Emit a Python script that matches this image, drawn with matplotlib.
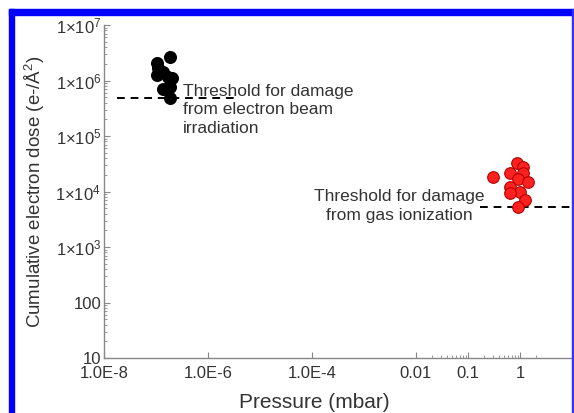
import numpy as np
import matplotlib
matplotlib.use("Agg")
import matplotlib.pyplot as plt
from matplotlib.ticker import FixedLocator, FixedFormatter, LogLocator, NullFormatter
from matplotlib.patches import Rectangle

plt.rcParams['font.family'] = ['Liberation Sans', 'DejaVu Sans']
plt.rcParams['mathtext.fontset'] = 'custom'
plt.rcParams['mathtext.rm'] = 'Liberation Sans'
plt.rcParams['mathtext.it'] = 'Liberation Sans:italic'

# electron beam irradiation (vacuum)
beam_p = [1.86e-7, 1.04e-7, 1.10e-7, 1.36e-7, 1.04e-7, 1.70e-7, 2.03e-7, 1.36e-7, 1.86e-7, 1.86e-7]
beam_dose = [2.65e6, 2.07e6, 1.68e6, 1.42e6, 1.26e6, 1.16e6, 1.11e6, 7.0e5, 7.6e5, 4.8e5]

# gas ionization
gas_p = [0.30, 0.87, 1.14, 0.65, 1.14, 0.91, 1.42, 0.65, 1.0, 0.65, 1.25, 0.91]
gas_dose = [1.82e4, 3.2e4, 2.77e4, 2.14e4, 2.2e4, 1.68e4, 1.48e4, 1.2e4, 9.8e3, 9.4e3, 7.0e3, 5.3e3]

# thresholds
beam_thr_x = [1.8e-8, 3.6e-6]
beam_thr_y = 4.8e5
gas_thr_x = [0.17, 10]
gas_thr_y = 5.2e3

xticks = [1e-8, 1e-6, 1e-4, 1e-2, 0.1, 1]
xticklabels = ['1.0E-8', '1.0E-6', '1.0E-4', '0.01', '0.1', '1']
xminor = [0.02, 0.03, 0.04, 0.05, 0.06, 0.07, 0.08, 0.09,
          0.2, 0.3, 0.4, 0.5, 0.6, 0.7, 0.8, 0.9, 2]
yticks = [10, 100, 1e3, 1e4, 1e5, 1e6, 1e7]
yticklabels = ['10', '100', '1×10$^{3}$', '1×10$^{4}$', '1×10$^{5}$', '1×10$^{6}$', '1×10$^{7}$']

txt = '#333333'
fig = plt.figure(figsize=(5.74, 4.13), dpi=100)
ax = fig.add_axes([0.181, 0.133, 0.8155, 0.8065])
ax.set_xscale('log')
ax.set_yscale('log')
ax.set_xlim(1e-8, 10)
ax.set_ylim(10, 1e7)

ax.plot(beam_thr_x, [beam_thr_y] * 2, color='black', ls=(0, (4, 3)), lw=1.4, zorder=2)
ax.plot(gas_thr_x, [gas_thr_y] * 2, color='black', ls=(0, (4, 3)), lw=1.4, zorder=2)
ax.scatter(beam_p, beam_dose, s=70, color='black', edgecolor='black', zorder=3)
ax.scatter(gas_p, gas_dose, s=70, color='#ff2020', edgecolor='#b00000', linewidth=0.8, zorder=3)

ax.text(3.3e-7, 2.95e5, 'Threshold for damage\nfrom electron beam\nirradiation',
        fontsize=12.5, color=txt, ha='left', va='center', linespacing=1.3)
ax.text(4.7e-3, 5.5e3, 'Threshold for damage\nfrom gas ionization',
        fontsize=12.5, color=txt, ha='center', va='center', multialignment='center',
        linespacing=1.3)

ax.xaxis.set_major_locator(FixedLocator(xticks))
ax.xaxis.set_major_formatter(FixedFormatter(xticklabels))
ax.xaxis.set_minor_locator(FixedLocator(xminor))
ax.xaxis.set_minor_formatter(NullFormatter())
ax.yaxis.set_major_locator(FixedLocator(yticks))
ax.yaxis.set_major_formatter(FixedFormatter(yticklabels))
ax.yaxis.set_minor_locator(LogLocator(base=10, subs=np.arange(2, 10)))
ax.yaxis.set_minor_formatter(NullFormatter())

ax.tick_params(which='both', direction='in', colors='#888888', labelcolor=txt, labelsize=12)
ax.tick_params(which='major', length=4, width=0.8)
ax.tick_params(which='minor', length=2, width=0.6)
ax.tick_params(axis='x', pad=6)
ax.tick_params(axis='y', pad=2)

for s in ['top', 'right']:
    ax.spines[s].set_visible(False)
for s in ['left', 'bottom']:
    ax.spines[s].set_color('#888888')
    ax.spines[s].set_linewidth(1.0)

ax.set_xlabel('Pressure (mbar)', fontsize=15, color=txt)
ax.xaxis.set_label_coords((314 - 104) / 468, -0.105)
ax.set_ylabel('Cumulative electron dose (e-/Å$^{2}$)', fontsize=13.5, color=txt, labelpad=6)

# blue frame
W, H = 574, 413
fig.patches.append(Rectangle((9 / W, 0), 5 / W, 1 - 9 / H, transform=fig.transFigure,
                             color='#0000ff', zorder=10))
fig.patches.append(Rectangle((9 / W, 1 - 15 / H), 1 - 9 / W, 6 / H, transform=fig.transFigure,
                             color='#0000ff', zorder=10))
fig.patches.append(Rectangle((572 / W, 0), 2 / W, 1 - 9 / H, transform=fig.transFigure,
                             color='#3030ff', zorder=10))

fig.savefig('out.png', dpi=100)
